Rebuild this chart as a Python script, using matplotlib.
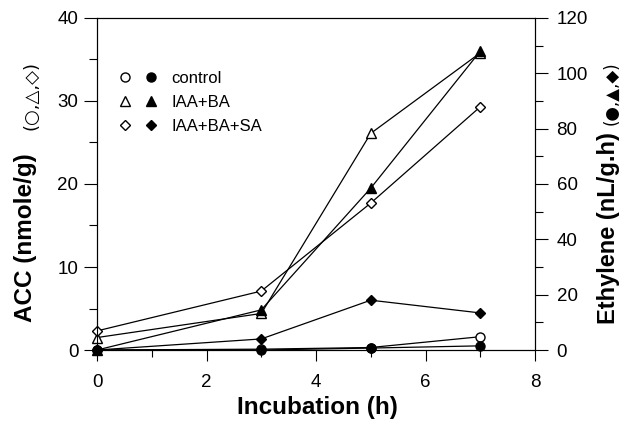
import matplotlib
matplotlib.use("Agg")
import matplotlib.pyplot as plt
from matplotlib.lines import Line2D
from matplotlib.legend_handler import HandlerTuple

plt.rcParams['font.family'] = ['Liberation Sans', 'DejaVu Sans']

hours = [0, 3, 5, 7]
# ACC (nmole/g), left axis, open markers
acc_control = [0.0, 0.1, 0.3, 1.6]
acc_iaa_ba = [1.5, 4.4, 26.1, 35.8]
acc_iaa_ba_sa = [2.3, 7.1, 17.7, 29.3]
# Ethylene (nL/g.h), right axis, filled markers
eth_control = [0.0, 0.0, 0.7, 1.5]
eth_iaa_ba = [0.0, 14.5, 58.5, 108.0]
eth_iaa_ba_sa = [0.0, 4.0, 18.0, 13.4]

labels = ['control', 'IAA+BA', 'IAA+BA+SA']

W, H = 635, 423
fig = plt.figure(figsize=(W/100, H/100), dpi=100)
ax = fig.add_axes([97/W, 1-350/H, 438/W, 332/H])
ax2 = ax.twinx()

lw = 0.9
ms = 6.5
markers = ['o', '^', 'D']
sizes = [ms, ms+0.8, ms-1.5]
kw = dict(color='black', lw=lw, clip_on=False, zorder=3)
for vals, m, s in zip([acc_control, acc_iaa_ba, acc_iaa_ba_sa], markers, sizes):
    ax.plot(hours, vals, marker=m, ms=s, mfc='white', mec='black', **kw)
for vals, m, s in zip([eth_control, eth_iaa_ba, eth_iaa_ba_sa], markers, sizes):
    ax2.plot(hours, vals, marker=m, ms=s, mfc='black', mec='black', **kw)

ax.set_xlim(0, 8)
ax.set_ylim(0, 40)
ax2.set_ylim(0, 120)
ax.set_xticks([0, 2, 4, 6, 8])
ax.set_xticks([1, 3, 5, 7], minor=True)
ax.set_yticks([0, 10, 20, 30, 40])
ax.set_yticks([5, 15, 25, 35], minor=True)
ax2.set_yticks([0, 20, 40, 60, 80, 100, 120])
ax2.set_yticks([10, 30, 50, 70, 90, 110], minor=True)

for a in (ax, ax2):
    for s in a.spines.values():
        s.set_linewidth(0.8)
ax.tick_params(axis='x', which='major', direction='out', length=8, width=0.8, labelsize=13.5, pad=9)
ax.tick_params(axis='x', which='minor', direction='out', length=5, width=0.8)
ax.tick_params(axis='y', which='major', direction='out', length=9.5, width=0.8, labelsize=13.5, pad=4)
ax.tick_params(axis='y', which='minor', direction='out', length=6, width=0.8)
ax2.tick_params(axis='y', which='major', direction='out', length=9.5, width=0.8, labelsize=13.5, pad=6)
ax2.tick_params(axis='y', which='minor', direction='out', length=6, width=0.8)

# axis titles
fig.text(317/W, 1-414/H, 'Incubation (h)', fontsize=17.5, fontweight='bold',
         ha='center', va='baseline')
fig.text(26/W, 1-322/H, 'ACC (nmole/g)', rotation=90, fontsize=17.5, fontweight='bold',
         ha='center', va='bottom')
fig.text(31/W, 1-130/H, '(○,△,◇)', rotation=90, fontsize=13, family=['DejaVu Sans'],
         ha='center', va='bottom')
fig.text(609/W, 1-324/H, 'Ethylene (nL/g.h)', rotation=90, fontsize=17, fontweight='bold',
         ha='center', va='bottom')
fig.text(612/W, 1-125/H, '(●,▲,◆)', rotation=90, fontsize=12, family=['DejaVu Sans'],
         ha='center', va='bottom')

# legend with open + filled marker pairs
handles = []
for m, s in zip(markers, sizes):
    o = Line2D([], [], ls='none', marker=m, ms=s, mfc='white', mec='black', mew=1.0)
    f = Line2D([], [], ls='none', marker=m, ms=s, mfc='black', mec='black', mew=1.0)
    handles.append((o, f))
ax.legend(handles, labels,
          handler_map={tuple: HandlerTuple(ndivide=None, pad=0)},
          loc='upper left', bbox_to_anchor=(0.033, 0.840), frameon=False,
          borderpad=0, borderaxespad=0,
          fontsize=12, handlelength=3.2, handletextpad=0.4, labelspacing=0.54)

fig.savefig('out.png', dpi=100)
